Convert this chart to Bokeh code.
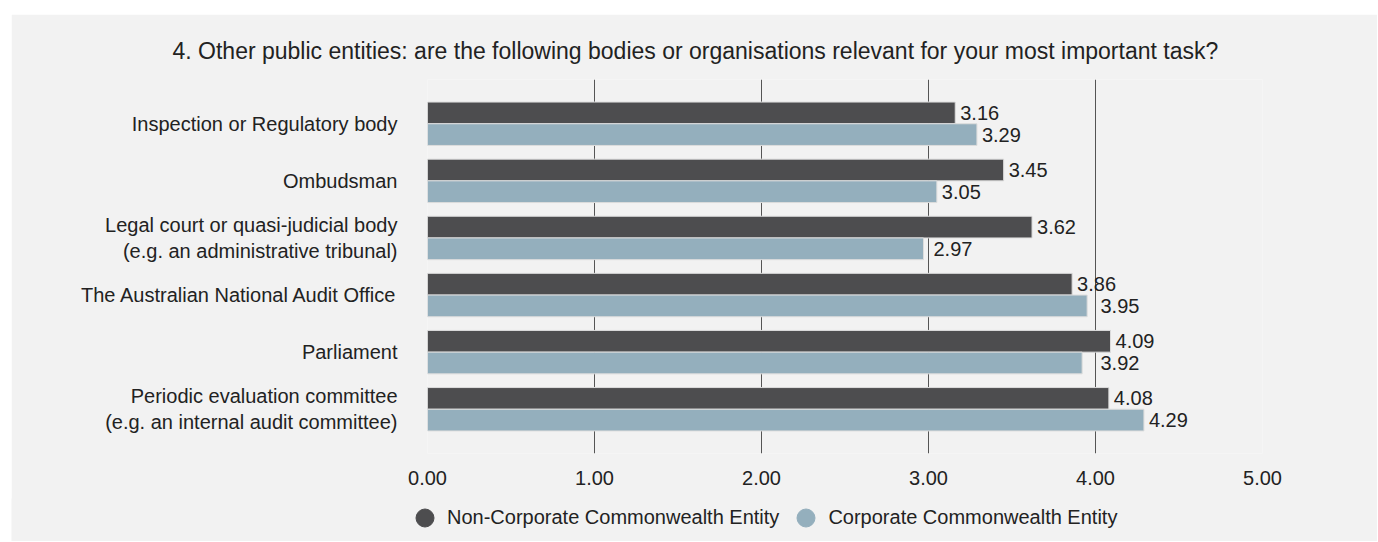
import numpy as np
from bokeh.plotting import figure
from bokeh.models import (ColumnDataSource, FactorRange, Range1d, Legend, LegendItem,
                          NumeralTickFormatter, FixedTicker)
from bokeh.transform import dodge
from bokeh.core.properties import value
from bokeh.embed import file_html
from bokeh.resources import INLINE

categories = [
    "Inspection or Regulatory body",
    "Ombudsman",
    "Legal court or quasi-judicial body\n(e.g. an administrative tribunal)",
    "The Australian National Audit Office",
    "Parliament",
    "Periodic evaluation committee\n(e.g. an internal audit committee)",
]
non_corporate = [3.16, 3.45, 3.62, 3.86, 4.09, 4.08]
corporate = [3.29, 3.05, 2.97, 3.95, 3.92, 4.29]
series_names = ["Non-Corporate Commonwealth Entity", "Corporate Commonwealth Entity"]
x_ticks = [0, 1, 2, 3, 4, 5]
title_text = ("4. Other public entities: are the following bodies or organisations "
              "relevant for your most important task?")

FONT = "Liberation Sans"
FS = "20px"
DARK = "#4d4d4f"
LIGHT = "#94afbd"
BG = "#f2f2f2"
TXT = "#222222"


def label_x(vals):
    v = np.asarray(vals, dtype=float)
    nxt = np.ceil(v)
    return np.where(nxt - v < 0.1, nxt, v)


src = ColumnDataSource(dict(
    cat=categories,
    nc=non_corporate,
    co=corporate,
    nc_lx=label_x(non_corporate),
    co_lx=label_x(corporate),
    nc_txt=[f"{v:.2f}" for v in non_corporate],
    co_txt=[f"{v:.2f}" for v in corporate],
))

p = figure(
    width=1366, height=485,
    y_range=FactorRange(factors=list(reversed(categories)), range_padding=0.275,
                        range_padding_units="absolute"),
    x_range=Range1d(0, 5),
    output_backend="svg", toolbar_location=None,
    min_border_left=416, min_border_right=115, min_border_top=65, min_border_bottom=46,
    background_fill_color=BG, border_fill_color=BG,
)
p.margin = (14, 0, 0, 11)
p.outline_line_color = None

# title
p.title.text = title_text
p.title.align = "left"
p.title.offset = -255
p.title.standoff = 32
p.title.text_font = FONT
p.title.text_font_size = "23px"
p.title.text_font_style = "normal"
p.title.text_color = TXT

off = 0.19
h = 0.38
p.hbar(y=dodge("cat", off, range=p.y_range), right="nc", left=0, height=h, source=src,
       fill_color=DARK, line_color="#dcdcdc", line_width=1)
p.hbar(y=dodge("cat", -off, range=p.y_range), right="co", left=0, height=h, source=src,
       fill_color=LIGHT, line_color="#dcdcdc", line_width=1)

p.text(x="nc_lx", y=dodge("cat", off, range=p.y_range), text="nc_txt", source=src,
       x_offset=5, text_baseline="middle", text_align="left", text_font=value(FONT),
       text_font_size=value(FS), text_color=TXT)
p.text(x="co_lx", y=dodge("cat", -off, range=p.y_range), text="co_txt", source=src,
       x_offset=5, text_baseline="middle", text_align="left", text_font=value(FONT),
       text_font_size=value(FS), text_color=TXT)

# grid
p.ygrid.grid_line_color = None
p.xgrid.grid_line_color = "#555555"
p.xgrid.grid_line_width = 1
p.xgrid.ticker = FixedTicker(ticks=x_ticks)

# x axis
p.xaxis.ticker = FixedTicker(ticks=x_ticks)
p.xaxis.formatter = NumeralTickFormatter(format="0.00")
p.xaxis.axis_line_color = None
p.xaxis.major_tick_line_color = None
p.xaxis.minor_tick_line_color = None
p.xaxis.major_label_standoff = 11
p.xaxis.major_label_text_font = FONT
p.xaxis.major_label_text_font_size = FS
p.xaxis.major_label_text_color = TXT

# y axis
p.yaxis.axis_line_color = None
p.yaxis.major_tick_line_color = None
p.yaxis.major_label_standoff = 24
p.yaxis.major_label_text_font = FONT
p.yaxis.major_label_text_font_size = FS
p.yaxis.major_label_text_color = TXT

# legend strip: separate root figure so the legend is neither clipped nor frame-aligned
lg = figure(
    width=1366, height=43,
    x_range=FactorRange(factors=series_names), y_range=FactorRange(factors=series_names),
    output_backend="svg", toolbar_location=None, min_border=0,
    x_axis_location=None, y_axis_location=None,
    background_fill_color=BG, border_fill_color=BG,
)
lg.margin = (-1, 0, 0, 11)
lg.outline_line_color = None
lg.grid.visible = False
l1 = lg.scatter(x="name", y="name", source=ColumnDataSource(dict(name=series_names[:1])),
                marker="circle", size=0, fill_color=DARK, line_color=DARK)
l2 = lg.scatter(x="name", y="name", source=ColumnDataSource(dict(name=series_names[1:])),
                marker="circle", size=0, fill_color=LIGHT, line_color=LIGHT)
legend = Legend(
    items=[LegendItem(label=series_names[0], renderers=[l1]),
           LegendItem(label=series_names[1], renderers=[l2])],
    orientation="horizontal", location=(391, 1),
    glyph_width=45, glyph_height=45, label_standoff=0, spacing=4,
    padding=0, margin=0, border_line_color=None, background_fill_alpha=0,
    label_text_font=FONT, label_text_font_size=FS, label_text_color=TXT,
)
lg.add_layout(legend, "center")

open("out.html", "w").write(file_html([p, lg], INLINE))
